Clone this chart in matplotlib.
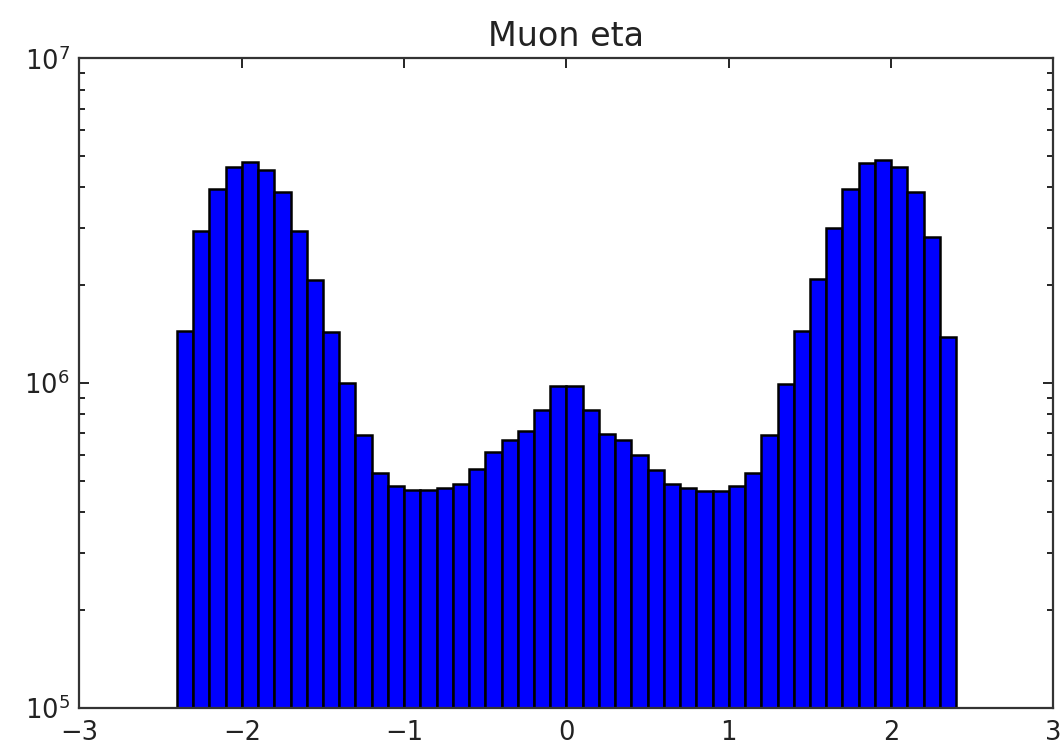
import numpy as np
import matplotlib
matplotlib.use('agg')
import matplotlib.pyplot as plt

# muon pseudorapidity counts, 48 bins of width 0.1 from -2.4 to 2.4
bin_edges = np.round(np.arange(-2.4, 2.41, 0.1), 2)
counts = [
    1.45e6, 2.94e6, 3.97e6, 4.61e6, 4.80e6, 4.54e6, 3.87e6, 2.93e6,
    2.07e6, 1.43e6, 9.99e5, 6.89e5, 5.29e5, 4.83e5, 4.69e5, 4.69e5,
    4.75e5, 4.89e5, 5.44e5, 6.12e5, 6.68e5, 7.10e5, 8.25e5, 9.79e5,
    9.79e5, 8.23e5, 6.97e5, 6.68e5, 6.01e5, 5.41e5, 4.89e5, 4.74e5,
    4.66e5, 4.66e5, 4.83e5, 5.27e5, 6.89e5, 9.94e5, 1.44e6, 2.09e6,
    2.99e6, 3.97e6, 4.76e6, 4.87e6, 4.61e6, 3.87e6, 2.81e6, 1.38e6,
]

plt.rcParams['xtick.direction'] = 'in'
plt.rcParams['ytick.direction'] = 'in'
plt.rcParams['xtick.top'] = True
plt.rcParams['ytick.right'] = True

fig = plt.figure(figsize=(10.64, 7.48), dpi=100)
ax = fig.add_axes([0.0747, 0.0541, 0.9154, 0.868])

ax.hist(bin_edges[:-1], bins=bin_edges, weights=counts,
        color='blue', edgecolor='black', linewidth=1.8)

ax.set_yscale('log')
ax.set_xlim(-3, 3)
ax.set_ylim(1e5, 1e7)
ax.set_xticks([-3, -2, -1, 0, 1, 2, 3])
ax.tick_params(which='major', length=7.5, width=1.2, labelsize=18.5,
               labelcolor='#222222')
ax.tick_params(axis='x', which='major', pad=9)
ax.tick_params(axis='y', which='major', pad=7)
ax.tick_params(which='minor', length=4, width=1.2)
for s in ax.spines.values():
    s.set_linewidth(1.6)
    s.set_color('#333333')

ax.set_title('Muon eta', fontsize=24, pad=9, color='#222222')

fig.savefig('out.png', dpi=100)
plt.close(fig)
